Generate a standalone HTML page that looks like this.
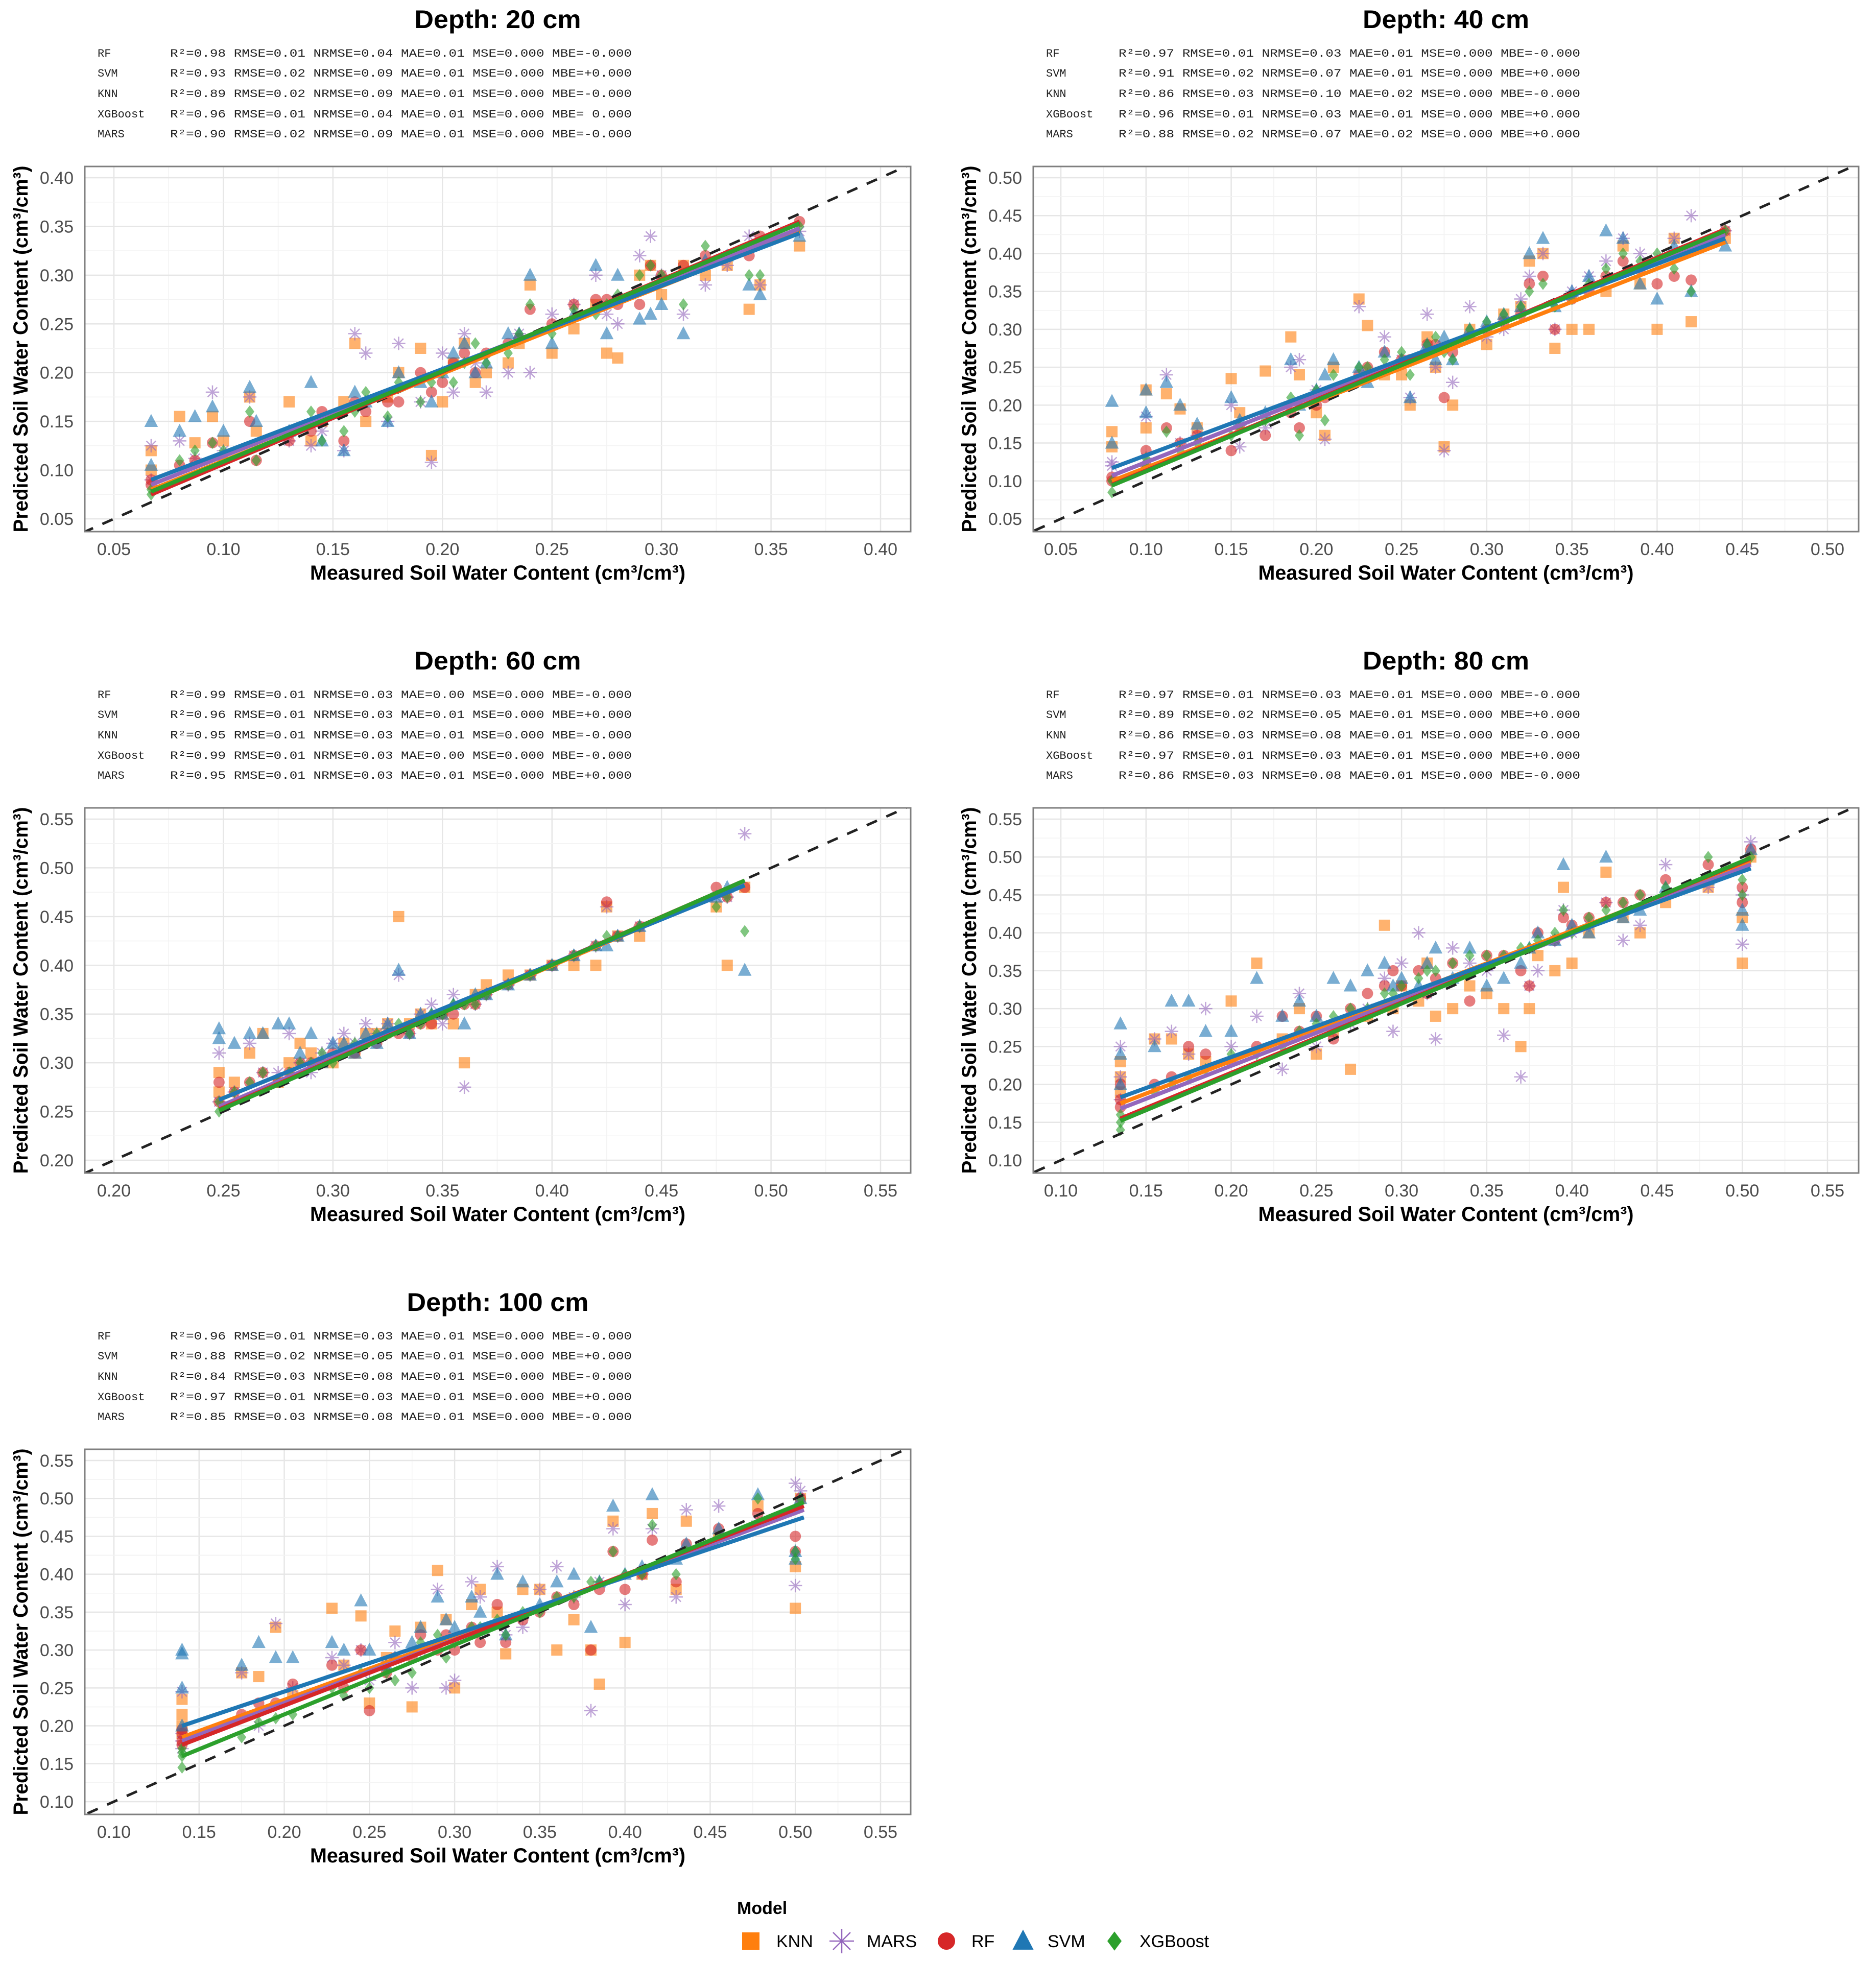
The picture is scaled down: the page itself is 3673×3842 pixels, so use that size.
<!DOCTYPE html>
<html><head><meta charset="utf-8">
<style>
html,body{margin:0;padding:0;background:#fff;}
svg{display:block;}
.ttl{font-family:"Liberation Sans",sans-serif;font-weight:bold;font-size:50px;fill:#000;}
.st{font-family:"Liberation Mono",monospace;font-size:22px;fill:#222;}
.tk{font-family:"Liberation Sans",sans-serif;font-size:34px;fill:#4d4d4d;}
.ax{font-family:"Liberation Sans",sans-serif;font-weight:bold;font-size:40px;fill:#000;}
.lg{font-family:"Liberation Sans",sans-serif;font-size:34px;fill:#000;}
</style></head>
<body>
<svg id="fig" xmlns="http://www.w3.org/2000/svg" width="3673" height="3842" viewBox="0 0 3673 3842">
<g id="legend">
<text class="lg" x="1443" y="3748" font-weight="bold">Model</text>
</g>
</svg>
<script>
// ---------- data ----------
const models = ["KNN","MARS","RF","SVM","XGBoost"];
const colors = ["#ff7f0e","#9467bd","#d62728","#1f77b4","#2ca02c"];
const depths = ["Depth: 20 cm","Depth: 40 cm","Depth: 60 cm","Depth: 80 cm","Depth: 100 cm"];

const statsP1 = ["RF|R²=0.98 RMSE=0.01 NRMSE=0.04 MAE=0.01 MSE=0.000 MBE=-0.000","SVM|R²=0.93 RMSE=0.02 NRMSE=0.09 MAE=0.01 MSE=0.000 MBE=+0.000","KNN|R²=0.89 RMSE=0.02 NRMSE=0.09 MAE=0.01 MSE=0.000 MBE=-0.000","XGBoost|R²=0.96 RMSE=0.01 NRMSE=0.04 MAE=0.01 MSE=0.000 MBE= 0.000","MARS|R²=0.90 RMSE=0.02 NRMSE=0.09 MAE=0.01 MSE=0.000 MBE=-0.000"];
const statsP2 = ["RF|R²=0.97 RMSE=0.01 NRMSE=0.03 MAE=0.01 MSE=0.000 MBE=-0.000","SVM|R²=0.91 RMSE=0.02 NRMSE=0.07 MAE=0.01 MSE=0.000 MBE=+0.000","KNN|R²=0.86 RMSE=0.03 NRMSE=0.10 MAE=0.02 MSE=0.000 MBE=-0.000","XGBoost|R²=0.96 RMSE=0.01 NRMSE=0.03 MAE=0.01 MSE=0.000 MBE=+0.000","MARS|R²=0.88 RMSE=0.02 NRMSE=0.07 MAE=0.02 MSE=0.000 MBE=+0.000"];
const statsP3 = ["RF|R²=0.99 RMSE=0.01 NRMSE=0.03 MAE=0.00 MSE=0.000 MBE=-0.000","SVM|R²=0.96 RMSE=0.01 NRMSE=0.03 MAE=0.01 MSE=0.000 MBE=+0.000","KNN|R²=0.95 RMSE=0.01 NRMSE=0.03 MAE=0.01 MSE=0.000 MBE=-0.000","XGBoost|R²=0.99 RMSE=0.01 NRMSE=0.03 MAE=0.00 MSE=0.000 MBE=-0.000","MARS|R²=0.95 RMSE=0.01 NRMSE=0.03 MAE=0.01 MSE=0.000 MBE=+0.000"];
const statsP4 = ["RF|R²=0.97 RMSE=0.01 NRMSE=0.03 MAE=0.01 MSE=0.000 MBE=-0.000","SVM|R²=0.89 RMSE=0.02 NRMSE=0.05 MAE=0.01 MSE=0.000 MBE=+0.000","KNN|R²=0.86 RMSE=0.03 NRMSE=0.08 MAE=0.01 MSE=0.000 MBE=-0.000","XGBoost|R²=0.97 RMSE=0.01 NRMSE=0.03 MAE=0.01 MSE=0.000 MBE=+0.000","MARS|R²=0.86 RMSE=0.03 NRMSE=0.08 MAE=0.01 MSE=0.000 MBE=-0.000"];
const statsP5 = ["RF|R²=0.96 RMSE=0.01 NRMSE=0.03 MAE=0.01 MSE=0.000 MBE=-0.000","SVM|R²=0.88 RMSE=0.02 NRMSE=0.05 MAE=0.01 MSE=0.000 MBE=+0.000","KNN|R²=0.84 RMSE=0.03 NRMSE=0.08 MAE=0.01 MSE=0.000 MBE=-0.000","XGBoost|R²=0.97 RMSE=0.01 NRMSE=0.03 MAE=0.01 MSE=0.000 MBE=+0.000","MARS|R²=0.85 RMSE=0.03 NRMSE=0.08 MAE=0.01 MSE=0.000 MBE=-0.000"];

const xTicksP1 = [0.05,0.10,0.15,0.20,0.25,0.30,0.35,0.40];
const yTicksP1 = [0.05,0.10,0.15,0.20,0.25,0.30,0.35,0.40];
const xTicksP2 = [0.05,0.10,0.15,0.20,0.25,0.30,0.35,0.40,0.45,0.50];
const yTicksP2 = [0.05,0.10,0.15,0.20,0.25,0.30,0.35,0.40,0.45,0.50];
const xTicksP3 = [0.20,0.25,0.30,0.35,0.40,0.45,0.50,0.55];
const yTicksP3 = [0.20,0.25,0.30,0.35,0.40,0.45,0.50,0.55];
const xTicksP4 = [0.10,0.15,0.20,0.25,0.30,0.35,0.40,0.45,0.50,0.55];
const yTicksP4 = [0.10,0.15,0.20,0.25,0.30,0.35,0.40,0.45,0.50,0.55];
const xTicksP5 = [0.10,0.15,0.20,0.25,0.30,0.35,0.40,0.45,0.50,0.55];
const yTicksP5 = [0.10,0.15,0.20,0.25,0.30,0.35,0.40,0.45,0.50,0.55];

// Panel 1 (20 cm)
const measuredP1 = [0.067,0.067,0.08,0.087,0.095,0.10,0.112,0.115,0.13,0.14,0.145,0.155,0.16,0.165,0.175,0.18,0.19,0.195,0.20,0.205,0.21,0.215,0.22,0.23,0.235,0.24,0.25,0.26,0.27,0.275,0.28,0.29,0.295,0.30,0.31,0.32,0.33,0.34,0.345,0.363];
const knnP1  = [0.12,0.10,0.155,0.128,0.155,0.13,0.175,0.14,0.17,0.13,0.15,0.17,0.23,0.15,0.175,0.20,0.225,0.115,0.17,0.21,0.23,0.19,0.20,0.21,0.23,0.29,0.22,0.245,0.27,0.22,0.215,0.30,0.31,0.28,0.31,0.30,0.31,0.265,0.29,0.33];
const marsP1 = [0.125,0.09,0.13,0.112,0.18,0.12,0.175,0.125,0.13,0.125,0.14,0.12,0.24,0.22,0.15,0.23,0.17,0.108,0.22,0.18,0.24,0.21,0.18,0.20,0.24,0.20,0.26,0.27,0.30,0.26,0.25,0.32,0.34,0.30,0.26,0.29,0.31,0.34,0.29,0.345];
const rfP1   = [0.09,0.085,0.105,0.11,0.128,0.11,0.15,0.11,0.13,0.14,0.16,0.13,0.17,0.16,0.17,0.17,0.20,0.18,0.19,0.21,0.22,0.20,0.22,0.23,0.235,0.265,0.25,0.27,0.275,0.275,0.27,0.27,0.31,0.30,0.31,0.32,0.32,0.32,0.34,0.355];
const svmP1  = [0.15,0.105,0.14,0.155,0.165,0.14,0.185,0.15,0.14,0.19,0.13,0.12,0.18,0.17,0.15,0.20,0.19,0.17,0.20,0.22,0.23,0.20,0.21,0.24,0.24,0.30,0.23,0.26,0.31,0.24,0.30,0.255,0.26,0.27,0.24,0.315,0.32,0.29,0.28,0.34];
const xgbP1  = [0.075,0.08,0.11,0.12,0.128,0.12,0.16,0.11,0.14,0.16,0.13,0.14,0.16,0.18,0.155,0.19,0.17,0.19,0.20,0.19,0.21,0.23,0.21,0.22,0.24,0.27,0.24,0.265,0.26,0.27,0.28,0.30,0.31,0.30,0.27,0.33,0.32,0.30,0.30,0.35];
const fitXP1 = [0.067,0.363];
const fitStartP1 = [0.080,0.085,0.075,0.090,0.078];
const fitEndP1   = [0.345,0.348,0.355,0.343,0.353];

// Panel 2 (40 cm)
const measuredP2 = [0.08,0.08,0.10,0.10,0.112,0.12,0.13,0.15,0.155,0.17,0.185,0.19,0.20,0.205,0.21,0.225,0.23,0.24,0.25,0.255,0.265,0.27,0.275,0.28,0.29,0.30,0.31,0.32,0.325,0.333,0.34,0.35,0.36,0.37,0.38,0.39,0.40,0.41,0.42,0.44];
const knnP2  = [0.165,0.145,0.22,0.17,0.215,0.195,0.17,0.235,0.19,0.245,0.29,0.24,0.19,0.16,0.25,0.34,0.305,0.24,0.24,0.20,0.29,0.25,0.145,0.20,0.30,0.28,0.32,0.33,0.39,0.40,0.275,0.30,0.30,0.35,0.41,0.36,0.30,0.42,0.31,0.42];
const marsP2 = [0.125,0.12,0.185,0.13,0.24,0.15,0.16,0.20,0.145,0.17,0.25,0.26,0.22,0.155,0.22,0.33,0.24,0.29,0.26,0.21,0.32,0.25,0.14,0.23,0.33,0.29,0.30,0.34,0.37,0.40,0.30,0.35,0.37,0.39,0.42,0.40,0.39,0.42,0.45,0.43];
const rfP2   = [0.105,0.10,0.14,0.12,0.17,0.15,0.16,0.14,0.17,0.16,0.19,0.17,0.20,0.21,0.22,0.24,0.25,0.27,0.26,0.26,0.28,0.28,0.21,0.27,0.29,0.30,0.31,0.32,0.36,0.37,0.30,0.34,0.35,0.37,0.39,0.38,0.36,0.37,0.365,0.43];
const svmP2  = [0.205,0.15,0.19,0.22,0.23,0.20,0.175,0.21,0.18,0.19,0.26,0.20,0.22,0.24,0.26,0.25,0.23,0.27,0.26,0.21,0.28,0.26,0.29,0.26,0.30,0.31,0.32,0.33,0.40,0.42,0.33,0.35,0.37,0.43,0.42,0.36,0.34,0.41,0.35,0.41];
const xgbP2  = [0.085,0.10,0.12,0.13,0.165,0.14,0.15,0.16,0.17,0.18,0.21,0.16,0.22,0.18,0.24,0.25,0.25,0.26,0.27,0.24,0.28,0.29,0.27,0.26,0.30,0.31,0.32,0.33,0.35,0.36,0.33,0.34,0.36,0.38,0.40,0.39,0.40,0.38,0.35,0.43];
const fitXP2 = [0.08,0.44];
const fitStartP2 = [0.100,0.107,0.095,0.117,0.094];
const fitEndP2   = [0.415,0.425,0.432,0.420,0.430];

// Panel 3 (60 cm)
const measuredP3 = [0.248,0.248,0.255,0.262,0.268,0.275,0.28,0.285,0.29,0.295,0.30,0.305,0.31,0.315,0.32,0.325,0.33,0.335,0.34,0.345,0.35,0.355,0.36,0.365,0.37,0.38,0.39,0.40,0.41,0.42,0.425,0.43,0.44,0.475,0.48,0.488];
const knnP3  = [0.27,0.29,0.28,0.31,0.33,0.28,0.30,0.32,0.31,0.30,0.30,0.32,0.31,0.33,0.33,0.34,0.45,0.34,0.35,0.34,0.35,0.34,0.30,0.37,0.38,0.39,0.39,0.40,0.40,0.40,0.46,0.43,0.43,0.46,0.40,0.48];
const marsP3 = [0.31,0.26,0.27,0.32,0.29,0.29,0.33,0.30,0.29,0.31,0.32,0.33,0.32,0.34,0.33,0.34,0.39,0.33,0.35,0.36,0.34,0.37,0.275,0.36,0.37,0.38,0.39,0.40,0.41,0.42,0.46,0.43,0.44,0.47,0.47,0.535];
const rfP3   = [0.26,0.28,0.27,0.28,0.29,0.28,0.29,0.30,0.30,0.30,0.31,0.31,0.31,0.32,0.32,0.33,0.33,0.33,0.34,0.34,0.35,0.35,0.36,0.36,0.37,0.38,0.39,0.40,0.41,0.42,0.465,0.43,0.44,0.48,0.47,0.48];
const svmP3  = [0.335,0.325,0.32,0.33,0.33,0.34,0.34,0.31,0.33,0.30,0.32,0.32,0.31,0.33,0.32,0.34,0.395,0.33,0.35,0.35,0.35,0.36,0.34,0.37,0.37,0.38,0.39,0.40,0.41,0.42,0.42,0.43,0.44,0.47,0.48,0.395];
const xgbP3  = [0.25,0.26,0.27,0.28,0.29,0.28,0.29,0.30,0.30,0.31,0.30,0.31,0.32,0.32,0.33,0.33,0.34,0.33,0.34,0.35,0.35,0.36,0.36,0.36,0.37,0.38,0.39,0.40,0.41,0.42,0.43,0.43,0.44,0.46,0.47,0.435];
const fitXP3 = [0.248,0.488];
const fitStartP3 = [0.254,0.255,0.252,0.262,0.251];
const fitEndP3   = [0.484,0.486,0.487,0.482,0.487];

// Panel 4 (80 cm)
const measuredP4 = [0.135,0.135,0.135,0.155,0.165,0.175,0.185,0.20,0.215,0.23,0.24,0.25,0.26,0.27,0.28,0.29,0.295,0.30,0.31,0.315,0.32,0.33,0.34,0.35,0.36,0.37,0.375,0.38,0.39,0.395,0.40,0.41,0.42,0.43,0.44,0.455,0.48,0.50,0.50,0.505];
const knnP4  = [0.23,0.19,0.21,0.26,0.26,0.24,0.23,0.31,0.36,0.26,0.30,0.24,0.27,0.22,0.29,0.41,0.30,0.33,0.31,0.36,0.29,0.30,0.33,0.32,0.30,0.25,0.30,0.37,0.35,0.46,0.36,0.40,0.48,0.42,0.40,0.44,0.46,0.36,0.42,0.50];
const marsP4 = [0.25,0.18,0.21,0.26,0.27,0.24,0.30,0.25,0.29,0.22,0.32,0.25,0.27,0.28,0.30,0.34,0.27,0.36,0.40,0.32,0.26,0.38,0.36,0.35,0.265,0.21,0.33,0.35,0.39,0.43,0.40,0.41,0.44,0.39,0.41,0.49,0.46,0.385,0.45,0.52];
const rfP4   = [0.18,0.20,0.17,0.20,0.21,0.25,0.24,0.23,0.25,0.29,0.27,0.29,0.26,0.30,0.32,0.33,0.35,0.33,0.35,0.32,0.34,0.36,0.31,0.37,0.37,0.35,0.33,0.40,0.39,0.42,0.41,0.42,0.44,0.44,0.45,0.47,0.49,0.46,0.44,0.51];
const svmP4  = [0.28,0.24,0.20,0.25,0.31,0.31,0.27,0.27,0.34,0.29,0.31,0.29,0.34,0.33,0.35,0.36,0.33,0.34,0.33,0.36,0.38,0.34,0.38,0.33,0.34,0.36,0.38,0.40,0.39,0.49,0.41,0.40,0.50,0.42,0.43,0.46,0.47,0.43,0.41,0.51];
const xgbP4  = [0.14,0.16,0.15,0.19,0.20,0.21,0.22,0.24,0.24,0.25,0.27,0.28,0.29,0.30,0.30,0.32,0.32,0.33,0.34,0.35,0.35,0.36,0.37,0.37,0.37,0.38,0.38,0.39,0.40,0.43,0.40,0.42,0.43,0.44,0.45,0.46,0.50,0.45,0.47,0.50];
const fitXP4 = [0.135,0.505];
const fitStartP4 = [0.175,0.168,0.155,0.183,0.152];
const fitEndP4   = [0.493,0.490,0.498,0.485,0.499];

// Panel 5 (100 cm)
const measuredP5 = [0.14,0.14,0.14,0.14,0.175,0.185,0.195,0.205,0.228,0.235,0.245,0.25,0.26,0.265,0.275,0.28,0.29,0.295,0.30,0.31,0.315,0.325,0.33,0.34,0.35,0.36,0.37,0.38,0.385,0.393,0.40,0.41,0.416,0.43,0.436,0.455,0.478,0.50,0.50,0.503];
const knnP5  = [0.235,0.215,0.19,0.20,0.27,0.265,0.33,0.24,0.355,0.28,0.345,0.23,0.29,0.325,0.225,0.33,0.405,0.34,0.25,0.36,0.38,0.35,0.295,0.38,0.38,0.30,0.34,0.30,0.255,0.47,0.31,0.40,0.48,0.38,0.47,0.45,0.49,0.355,0.41,0.50];
const marsP5 = [0.245,0.18,0.19,0.17,0.27,0.20,0.335,0.25,0.29,0.28,0.30,0.26,0.28,0.31,0.25,0.30,0.38,0.25,0.26,0.39,0.37,0.41,0.32,0.33,0.38,0.41,0.37,0.22,0.39,0.46,0.36,0.40,0.46,0.37,0.485,0.49,0.47,0.385,0.52,0.51];
const rfP5   = [0.195,0.175,0.18,0.19,0.215,0.23,0.23,0.255,0.28,0.25,0.30,0.22,0.27,0.29,0.29,0.32,0.30,0.32,0.30,0.33,0.31,0.36,0.31,0.34,0.35,0.37,0.36,0.30,0.38,0.43,0.38,0.40,0.445,0.39,0.44,0.46,0.48,0.45,0.43,0.50];
const svmP5  = [0.30,0.295,0.25,0.20,0.28,0.31,0.29,0.29,0.31,0.30,0.365,0.30,0.28,0.29,0.31,0.33,0.37,0.34,0.33,0.37,0.35,0.40,0.32,0.39,0.36,0.39,0.40,0.33,0.39,0.49,0.40,0.41,0.505,0.42,0.44,0.46,0.505,0.42,0.43,0.50];
const xgbP5  = [0.145,0.165,0.16,0.17,0.185,0.205,0.21,0.215,0.25,0.24,0.27,0.25,0.27,0.26,0.27,0.31,0.32,0.29,0.31,0.33,0.33,0.34,0.32,0.35,0.35,0.37,0.37,0.39,0.39,0.43,0.40,0.40,0.465,0.40,0.43,0.45,0.50,0.43,0.42,0.50];
const fitXP5 = [0.14,0.505];
const fitStartP5 = [0.185,0.180,0.175,0.200,0.160];
const fitEndP5   = [0.485,0.485,0.490,0.475,0.495];

// ---------- layout ----------
const NS = "http://www.w3.org/2000/svg";
const svg = document.getElementById("fig");
function mk(tag, attrs, parent){ const e=document.createElementNS(NS,tag); for(const k in attrs) e.setAttribute(k,attrs[k]); (parent||svg).appendChild(e); return e; }

const panels = [
 {stats:statsP1,xt:xTicksP1,yt:yTicksP1,mx:measuredP1,ys:[knnP1,marsP1,rfP1,svmP1,xgbP1],fx:fitXP1,f0:fitStartP1,f1:fitEndP1,
  box:[166,326,1783,1041],xr:[0.05,223,0.40,1724],yr:[0.05,1016,0.40,348]},
 {stats:statsP2,xt:xTicksP2,yt:yTicksP2,mx:measuredP2,ys:[knnP2,marsP2,rfP2,svmP2,xgbP2],fx:fitXP2,f0:fitStartP2,f1:fitEndP2,
  box:[2023,326,3639,1041],xr:[0.05,2077,0.50,3578],yr:[0.05,1016,0.50,348]},
 {stats:statsP3,xt:xTicksP3,yt:yTicksP3,mx:measuredP3,ys:[knnP3,marsP3,rfP3,svmP3,xgbP3],fx:fitXP3,f0:fitStartP3,f1:fitEndP3,
  box:[166,1582,1783,2297],xr:[0.20,223,0.55,1724],yr:[0.20,2272,0.55,1604]},
 {stats:statsP4,xt:xTicksP4,yt:yTicksP4,mx:measuredP4,ys:[knnP4,marsP4,rfP4,svmP4,xgbP4],fx:fitXP4,f0:fitStartP4,f1:fitEndP4,
  box:[2023,1582,3639,2297],xr:[0.10,2077,0.55,3578],yr:[0.10,2272,0.55,1604]},
 {stats:statsP5,xt:xTicksP5,yt:yTicksP5,mx:measuredP5,ys:[knnP5,marsP5,rfP5,svmP5,xgbP5],fx:fitXP5,f0:fitStartP5,f1:fitEndP5,
  box:[166,2838,1783,3553],xr:[0.10,223,0.55,1724],yr:[0.10,3528,0.55,2860]}
];

function marker(g, m, cx, cy, col, s, alpha){
  let e;
  if(m===0){ e=mk("rect",{x:cx-s/2,y:cy-s/2,width:s,height:s,fill:col,"fill-opacity":alpha},g); }
  else if(m===1){
    const r=s*0.6; let d="";
    for(let a=0;a<4;a++){ const t=a*Math.PI/4; d+=`M${cx-r*Math.cos(t)},${cy-r*Math.sin(t)}L${cx+r*Math.cos(t)},${cy+r*Math.sin(t)}`; }
    e=mk("path",{d:d,stroke:col,"stroke-width":2.5,"stroke-opacity":alpha,fill:"none"},g);
  }
  else if(m===2){ e=mk("circle",{cx:cx,cy:cy,r:s*0.5,fill:col,"fill-opacity":alpha},g); }
  else if(m===3){ const h=s*1.1; e=mk("path",{d:`M${cx},${cy-h*0.6}L${cx+h*0.55},${cy+h*0.45}L${cx-h*0.55},${cy+h*0.45}Z`,fill:col,"fill-opacity":alpha},g); }
  else { const r=s*0.55; e=mk("path",{d:`M${cx},${cy-r}L${cx+r*0.75},${cy}L${cx},${cy+r}L${cx-r*0.75},${cy}Z`,fill:col,"fill-opacity":alpha},g); }
  return e;
}

panels.forEach((p,pi)=>{
  const [L,T,R,B]=p.box;
  const sx=v=>p.xr[1]+(v-p.xr[0])*(p.xr[3]-p.xr[1])/(p.xr[2]-p.xr[0]);
  const sy=v=>p.yr[1]+(v-p.yr[0])*(p.yr[3]-p.yr[1])/(p.yr[2]-p.yr[0]);
  const g=mk("g",{});
  
  
  const cx=(L+R)/2;
  const t=mk("text",{class:"ttl",x:cx,y:T-271,"text-anchor":"middle",textLength:326+(pi===4?30:0),lengthAdjust:"spacingAndGlyphs"},g);
  t.textContent=depths[pi];
  
  
  const sg=mk("g",{},g);
  
  
  const stBase=[T-215,T-176,T-136,T-96,T-57];
  p.stats.forEach((s,i)=>{
    const [lab,val]=s.split("|");
    const a=mk("text",{class:"st",x:L+25,y:stBase[i]},sg); a.textContent=lab;
    
    
    const b=mk("text",{class:"st",x:L+167,y:stBase[i],textLength:904,lengthAdjust:"spacingAndGlyphs"},sg); b.textContent=val;
    
    
  });
  const clipId="clip"+pi;
  const cp=mk("clipPath",{id:clipId},g); mk("rect",{x:L,y:T,width:R-L,height:B-T},cp);
  const gg=mk("g",{"clip-path":`url(#${clipId})`},g);
  
  
  const step=p.xt[1]-p.xt[0];
  p.xt.forEach(v=>{ mk("line",{x1:sx(v),x2:sx(v),y1:T,y2:B,stroke:"#e6e6e6","stroke-width":2.5},gg); mk("line",{x1:sx(v+step/2),x2:sx(v+step/2),y1:T,y2:B,stroke:"#f3f3f3","stroke-width":1.5},gg); mk("line",{x1:sx(v-step/2),x2:sx(v-step/2),y1:T,y2:B,stroke:"#f3f3f3","stroke-width":1.5},gg); });
  p.yt.forEach(v=>{ mk("line",{y1:sy(v),y2:sy(v),x1:L,x2:R,stroke:"#e6e6e6","stroke-width":2.5},gg); mk("line",{y1:sy(v+step/2),y2:sy(v+step/2),x1:L,x2:R,stroke:"#f3f3f3","stroke-width":1.5},gg); mk("line",{y1:sy(v-step/2),y2:sy(v-step/2),x1:L,x2:R,stroke:"#f3f3f3","stroke-width":1.5},gg); });
  const pg=mk("g",{"clip-path":`url(#${clipId})`},g);
  p.ys.forEach((ys,mi)=>{
    const sg2=mk("g",{},pg);
    
    
    ys.forEach((y,i)=>{
      const e=marker(sg2,mi,sx(p.mx[i]),sy(y),colors[mi],22,0.6);
      
      
    });
  });
  const lo=Math.min(p.xt[0],p.yt[0])-0.05, hi=Math.max(p.xt[p.xt.length-1],p.yt[p.yt.length-1])+0.05;
  const d=mk("line",{x1:sx(lo),y1:sy(lo),x2:sx(hi),y2:sy(hi),stroke:"#222","stroke-width":5,"stroke-dasharray":"22 20","clip-path":`url(#${clipId})`},g);
  
  
  p.f0.forEach((y0,mi)=>{
    const l=mk("line",{x1:sx(p.fx[0]),y1:sy(y0),x2:sx(p.fx[1]),y2:sy(p.f1[mi]),stroke:colors[mi],"stroke-width":8},g);
    
    
  });
  const bx=mk("rect",{x:L,y:T,width:R-L,height:B-T,fill:"none",stroke:"#7f7f7f","stroke-width":3},g);
  
  
  p.xt.forEach(v=>{ const e=mk("text",{class:"tk",x:sx(v),y:B+46,"text-anchor":"middle"},g); e.textContent=v.toFixed(2);
      });
  p.yt.forEach(v=>{ const e=mk("text",{class:"tk",x:L-22,y:sy(v)+12,"text-anchor":"end"},g); e.textContent=v.toFixed(2);
      });
  const xa=mk("text",{class:"ax",x:cx,y:B+94,"text-anchor":"middle",textLength:735,lengthAdjust:"spacingAndGlyphs"},g);
  xa.textContent="Measured Soil Water Content (cm³/cm³)";
  
  
  const yx=L-112, yy=(T+B)/2;
  const ya=mk("text",{class:"ax",x:yx,y:yy,"text-anchor":"middle",transform:`rotate(-90 ${yx} ${yy})`,textLength:718,lengthAdjust:"spacingAndGlyphs"},g);
  ya.textContent="Predicted Soil Water Content (cm³/cm³)";
  
  
});

const lgx=[1470,1648,1853,2003,2182];
const ltx=[1520,1697,1902,2051,2231];
const lgEl=document.getElementById("legend");
models.forEach((m,i)=>{
  const g=mk("g",{},lgEl);
  
  
  marker(g,i,lgx[i],3801,colors[i],i===1?40:34,1);
  const t=mk("text",{class:"lg",x:ltx[i],y:3813},g); t.textContent=m;
});
</script>
</body></html>
